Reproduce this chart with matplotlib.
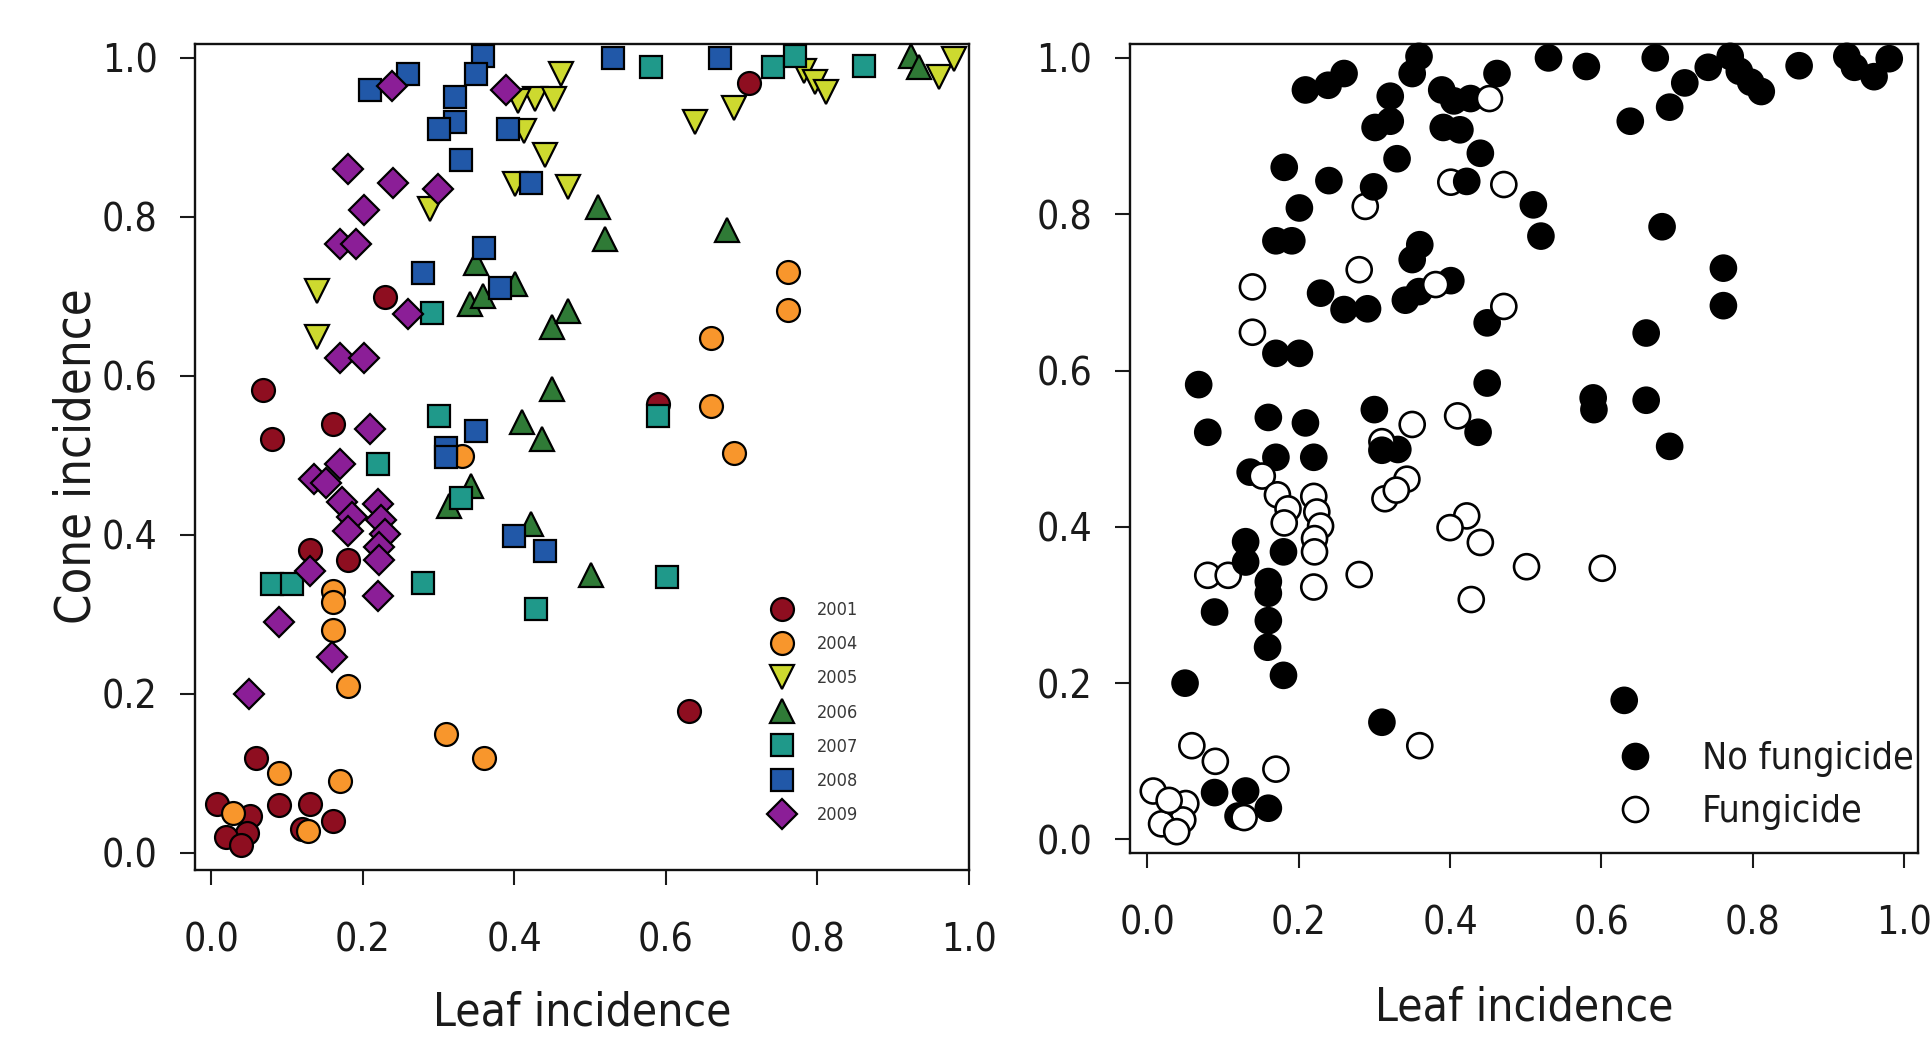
import os
import matplotlib
matplotlib.use("Agg")
import matplotlib.pyplot as plt
from matplotlib.lines import Line2D
from matplotlib import font_manager as fm

# ---------------- data (leaf incidence, cone incidence, fungicide flag) ----------------
years = ["2001", "2004", "2005", "2006", "2007", "2008", "2009"]

leaf_2001 = [0.068, 0.080, 0.160, 0.229, 0.130, 0.180, 0.710, 0.630, 0.589, 0.059,
             0.008, 0.051, 0.047, 0.089, 0.130, 0.120, 0.160, 0.019, 0.039]
cone_2001 = [0.582, 0.521, 0.540, 0.699, 0.381, 0.368, 0.968, 0.178, 0.565, 0.120,
             0.062, 0.046, 0.025, 0.060, 0.062, 0.030, 0.040, 0.020, 0.010]
fung_2001 = [0, 0, 0, 0, 0, 0, 0, 0, 0, 1, 1, 1, 1, 0, 0, 0, 0, 1, 1]

leaf_2004 = [0.761, 0.761, 0.659, 0.659, 0.690, 0.331, 0.160, 0.160, 0.160, 0.180,
             0.310, 0.360, 0.090, 0.170, 0.029, 0.128]
cone_2004 = [0.731, 0.683, 0.648, 0.562, 0.503, 0.499, 0.330, 0.315, 0.280, 0.210,
             0.150, 0.120, 0.100, 0.090, 0.050, 0.028]
fung_2004 = [0, 0, 0, 0, 0, 0, 0, 0, 0, 0, 0, 1, 1, 1, 1, 1]

leaf_2005 = [0.462, 0.427, 0.452, 0.405, 0.413, 0.440, 0.401, 0.471, 0.288, 0.139,
             0.139, 0.638, 0.690, 0.782, 0.797, 0.811, 0.960, 0.980]
cone_2005 = [0.980, 0.948, 0.948, 0.945, 0.908, 0.878, 0.841, 0.838, 0.810, 0.707,
             0.649, 0.919, 0.937, 0.983, 0.969, 0.957, 0.976, 0.999]
fung_2005 = [0, 0, 1, 0, 0, 0, 1, 1, 1, 1, 1, 0, 0, 0, 0, 0, 0, 0]

leaf_2006 = [0.924, 0.934, 0.510, 0.520, 0.680, 0.350, 0.341, 0.359, 0.401, 0.449,
             0.471, 0.449, 0.410, 0.437, 0.343, 0.314, 0.422, 0.501]
cone_2006 = [1.002, 0.988, 0.812, 0.772, 0.784, 0.742, 0.690, 0.701, 0.715, 0.661,
             0.682, 0.584, 0.542, 0.521, 0.461, 0.436, 0.414, 0.349]
fung_2006 = [0, 0, 0, 0, 0, 0, 0, 0, 0, 0, 1, 0, 1, 0, 1, 1, 1, 1]

leaf_2007 = [0.080, 0.107, 0.280, 0.428, 0.601, 0.329, 0.220, 0.300, 0.590, 0.291,
             0.580, 0.741, 0.770, 0.861]
cone_2007 = [0.338, 0.338, 0.339, 0.307, 0.347, 0.447, 0.489, 0.550, 0.550, 0.679,
             0.989, 0.988, 1.002, 0.990]
fung_2007 = [1, 1, 1, 1, 1, 1, 0, 0, 0, 0, 0, 0, 0, 0]

leaf_2008 = [0.209, 0.260, 0.359, 0.350, 0.321, 0.321, 0.301, 0.391, 0.330, 0.422,
             0.530, 0.671, 0.360, 0.280, 0.381, 0.350, 0.310, 0.310, 0.400, 0.440]
cone_2008 = [0.959, 0.980, 1.002, 0.980, 0.951, 0.919, 0.911, 0.911, 0.871, 0.842,
             1.000, 1.000, 0.761, 0.729, 0.710, 0.531, 0.509, 0.498, 0.399, 0.380]
fung_2008 = [0, 0, 0, 0, 0, 0, 0, 0, 0, 0, 0, 0, 0, 1, 1, 1, 1, 0, 1, 1]

leaf_2009 = [0.239, 0.389, 0.181, 0.240, 0.299, 0.201, 0.170, 0.191, 0.260, 0.170,
             0.201, 0.209, 0.170, 0.136, 0.152, 0.172, 0.186, 0.181, 0.220, 0.224,
             0.229, 0.221, 0.221, 0.220, 0.130, 0.089, 0.159, 0.050]
cone_2009 = [0.965, 0.959, 0.860, 0.843, 0.835, 0.808, 0.766, 0.766, 0.678, 0.622,
             0.622, 0.533, 0.489, 0.470, 0.465, 0.441, 0.423, 0.405, 0.439, 0.419,
             0.401, 0.385, 0.368, 0.323, 0.355, 0.291, 0.246, 0.200]
fung_2009 = [0, 0, 0, 0, 0, 0, 0, 0, 0, 0, 0, 0, 0, 0, 1, 1, 1, 1, 1, 1,
             1, 1, 1, 1, 0, 0, 0, 0]

tick_values = [0.0, 0.2, 0.4, 0.6, 0.8, 1.0]
tick_labels = ["0.0", "0.2", "0.4", "0.6", "0.8", "1.0"]
treatment_labels = ["No fungicide", "Fungicide"]

leaf_by_year = [leaf_2001, leaf_2004, leaf_2005, leaf_2006, leaf_2007, leaf_2008, leaf_2009]
cone_by_year = [cone_2001, cone_2004, cone_2005, cone_2006, cone_2007, cone_2008, cone_2009]
fung_by_year = [fung_2001, fung_2004, fung_2005, fung_2006, fung_2007, fung_2008, fung_2009]

# ---------------- styles ----------------
year_colors = ["#8E0E20", "#F8962C", "#CDD92F", "#2F7A36", "#1F998A", "#2158A8", "#8B1E97"]
year_markers = ["o", "o", "v", "^", "s", "s", "D"]
year_msizes = [16.5, 16.5, 17.5, 17.5, 15.5, 15.5, 15.0]

# font: prefer a condensed sans (close to the narrow Verdana-like original)
family, stretch = "DejaVu Sans", "normal"
for f in fm.fontManager.ttflist:
    base = os.path.basename(f.fname)
    if base == "DejaVuSansCondensed.ttf":
        family, stretch = f.name, f.stretch
        break
plt.rcParams["font.family"] = [family]
plt.rcParams["font.stretch"] = stretch

TEXT = "#1a1a1a"
W, H = 1930, 1037
fig = plt.figure(figsize=(W / 100, H / 100), dpi=100)


def box(l, t, r, b):
    return [l / W, 1 - b / H, (r - l) / W, (b - t) / H]


axL = fig.add_axes(box(195, 44, 969, 870))
axR = fig.add_axes(box(1130, 44, 1918, 853))

for ax in (axL, axR):
    ax.set_xticks(tick_values)
    ax.set_xticklabels(tick_labels)
    ax.set_yticks(tick_values)
    ax.set_yticklabels(tick_labels)
    ax.tick_params(axis="both", direction="out", length=11, width=1.5,
                   labelsize=28, colors=TEXT)
    ax.tick_params(axis="x", pad=26)
    ax.tick_params(axis="y", pad=16)
    for s in ax.spines.values():
        s.set_linewidth(1.7)
        s.set_color("#111111")

axL.set_xlim(-0.0215, 1.0)
axL.set_ylim(-0.0214, 1.0173)
axR.set_xlim(-0.0227, 1.018)
axR.set_ylim(-0.0173, 1.0178)

# ---------------- left panel: by year ----------------
handles = []
for i, yr in enumerate(years):
    axL.plot(leaf_by_year[i], cone_by_year[i], ls="none", marker=year_markers[i],
             ms=year_msizes[i], mfc=year_colors[i], mec="black", mew=1.6,
             clip_on=False, zorder=3 + i)
    handles.append(Line2D([], [], ls="none", marker=year_markers[i],
                          ms=year_msizes[i], mfc=year_colors[i], mec="black",
                          mew=1.6, label=yr))

legL = axL.legend(handles=handles, loc="upper left", bbox_to_anchor=(0.7444, 0.3255),
                  frameon=False, fontsize=13, handlelength=1.2, handletextpad=1.33,
                  labelspacing=0.895, borderpad=0, borderaxespad=0)
for t in legL.get_texts():
    t.set_color("#383838")

# ---------------- right panel: by treatment ----------------
xs, ys, fcs = [], [], []
for i in range(len(years)):
    for x, y, f in zip(leaf_by_year[i], cone_by_year[i], fung_by_year[i]):
        xs.append(x)
        ys.append(y)
        fcs.append("white" if f else "black")
axR.scatter(xs, ys, s=18 ** 2, c=fcs, edgecolors="black", linewidths=1.9,
            clip_on=False, zorder=3)

hR = [Line2D([], [], ls="none", marker="o", ms=18, mfc="black", mec="black",
             mew=1.9, label=treatment_labels[0]),
      Line2D([], [], ls="none", marker="o", ms=18, mfc="white", mec="black",
             mew=1.9, label=treatment_labels[1])]
legR = axR.legend(handles=hR, loc="upper left", bbox_to_anchor=(0.617, 0.138),
                  frameon=False, fontsize=27, handlelength=1.0, handletextpad=1.29,
                  labelspacing=0.44, borderpad=0, borderaxespad=0)
for t in legR.get_texts():
    t.set_color(TEXT)

# ---------------- axis labels ----------------
fig.text(77 / W, 1 - 456 / H, "Cone incidence", rotation=90, ha="center",
         va="center", fontsize=35, color=TEXT)
fig.text(582 / W, 1 - 1026 / H, "Leaf incidence", ha="center", va="baseline",
         fontsize=33, color=TEXT)
fig.text(1524 / W, 1 - 1020.5 / H, "Leaf incidence", ha="center", va="baseline",
         fontsize=33, color=TEXT)

fig.savefig("out.png", dpi=100)
